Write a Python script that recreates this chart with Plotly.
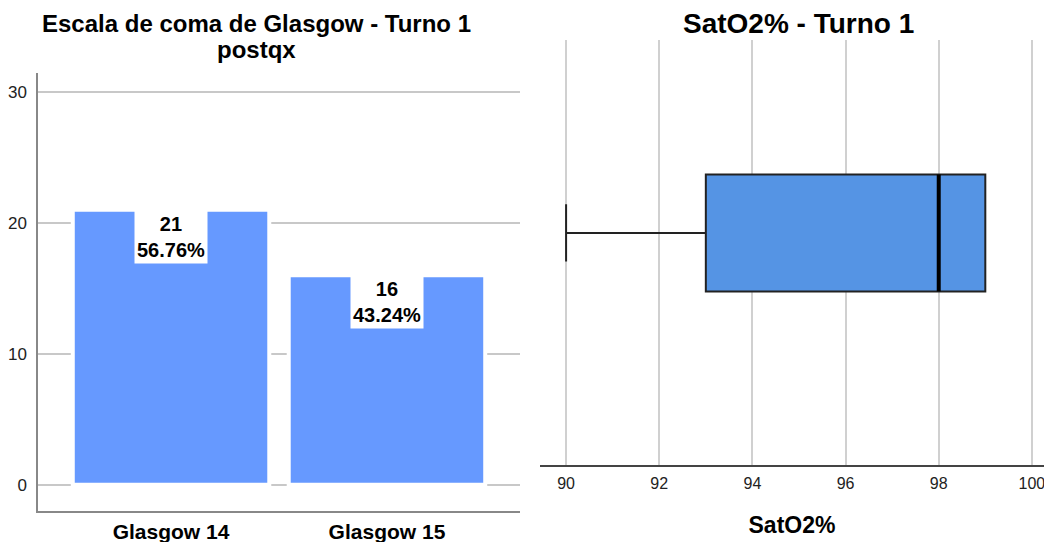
import plotly.graph_objects as go

# ---- data ----
gcs_categories = ["Glasgow 14", "Glasgow 15"]
gcs_counts = [21, 16]
sat_min = [90]
sat_q1 = [93]
sat_median = [98]
sat_q3 = [99]
sat_max = [99]
y_ticks_left = [0, 10, 20, 30]
x_ticks_right = [90, 92, 94, 96, 98, 100]

FONT = "Liberation Sans, Arial, sans-serif"
total = sum(gcs_counts)
pct_labels = [f"{100*c/total:.2f}%" for c in gcs_counts]

fig = go.Figure()

fig.add_trace(go.Bar(
    x=list(range(len(gcs_categories))), y=gcs_counts,
    marker=dict(color="#6699FF", line=dict(color="white", width=4)),
    xaxis="x", yaxis="y", showlegend=False, hoverinfo="skip",
))

box_pos = 0.546
box_w = 0.275
fig.add_trace(go.Box(
    y0=box_pos, orientation="h",
    q1=sat_q1, median=sat_median, q3=sat_q3,
    lowerfence=sat_min, upperfence=sat_max,
    width=box_w, whiskerwidth=0.49,
    fillcolor="#5594E4", line=dict(color="#222222", width=2),
    xaxis="x2", yaxis="y2", showlegend=False, hoverinfo="skip",
    boxpoints=False,
))

# median emphasised
fig.add_shape(type="line", xref="x2", yref="y2",
              x0=sat_median[0], x1=sat_median[0],
              y0=box_pos - box_w / 2, y1=box_pos + box_w / 2,
              line=dict(color="black", width=4))

# bar labels
for i, (c, p) in enumerate(zip(gcs_counts, pct_labels)):
    fig.add_annotation(x=i, y=c, xref="x", yref="y", yanchor="top", xanchor="center",
                       text=f"<b>{c}</b><br><b>{p}</b>", showarrow=False,
                       bgcolor="white", borderpad=2,
                       font=dict(family=FONT, size=20, color="black"))

# titles
fig.add_annotation(x=256/1044, y=1 - 24/542, xref="paper", yref="paper",
                   xanchor="center", yanchor="middle",
                   text="<b>Escala de coma de Glasgow - Turno 1</b>",
                   showarrow=False, font=dict(family=FONT, size=24, color="black"))
fig.add_annotation(x=256/1044, y=1 - 50/542, xref="paper", yref="paper",
                   xanchor="center", yanchor="middle",
                   text="<b>postqx</b>",
                   showarrow=False, font=dict(family=FONT, size=24, color="black"))
fig.add_annotation(x=798/1044, y=1 - 24/542, xref="paper", yref="paper",
                   xanchor="center", yanchor="middle",
                   text="<b>SatO2% - Turno 1</b>",
                   showarrow=False, font=dict(family=FONT, size=28, color="black"))

fig.update_layout(
    width=1044, height=542,
    margin=dict(l=0, r=0, t=0, b=0, autoexpand=False),
    paper_bgcolor="white", plot_bgcolor="white",
    font=dict(family=FONT, color="#222222"),
    bargap=0.09,
    xaxis=dict(domain=[38/1044, 520/1044], range=[-0.616, 1.616], automargin=False,
               tickvals=list(range(len(gcs_categories))), ticktext=gcs_categories,
               tickfont=dict(family=FONT, size=21, color="black", weight="bold"),
               showline=True, linecolor="#888888", linewidth=1.5,
               showgrid=False, zeroline=False, ticks="", ticklabelstandoff=1),
    yaxis=dict(domain=[31/542, 469/542], range=[-2, 31.45], automargin=False,
               tickvals=y_ticks_left, tickfont=dict(size=17, color="#222222"),
               showline=True, linecolor="#888888", linewidth=1.5,
               showgrid=True, gridcolor="#C8C8C8", gridwidth=1.5,
               zeroline=False, ticks="", ticklabelstandoff=6),
    xaxis2=dict(domain=[540/1044, 1.0], range=[89.44, 100.26], automargin=False,
                tickvals=x_ticks_right, tickfont=dict(size=16, color="#222222"),
                showline=True, linecolor="#444444", linewidth=1.5,
                showgrid=True, gridcolor="#D0D0D0", gridwidth=1.5,
                zeroline=False, ticks="", anchor="y2", ticklabelstandoff=3,
                ticklabeloverflow="allow",
                title=dict(text="<b>SatO2%</b>", font=dict(size=23, color="black"), standoff=26)),
    yaxis2=dict(domain=[77/542, 502/542], range=[0, 1], automargin=False,
                showticklabels=False, showgrid=False, zeroline=False,
                showline=False, anchor="x2"),
)

fig.write_html("out.html", post_script="document.body.style.margin='0';",
               config={"displayModeBar": False})
